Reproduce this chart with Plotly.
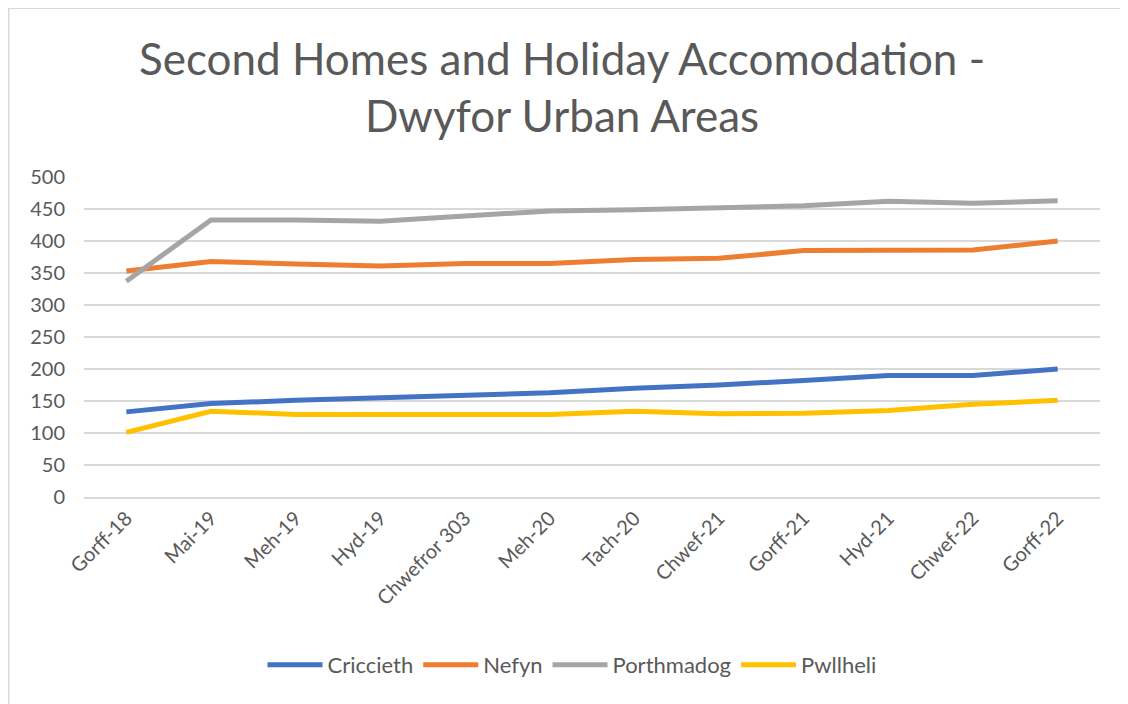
import plotly.graph_objects as go

categories = ["Gorff-18", "Mai-19", "Meh-19", "Hyd-19", "Chwefror 303", "Meh-20",
              "Tach-20", "Chwef-21", "Gorff-21", "Hyd-21", "Chwef-22", "Gorff-22"]
criccieth = [133, 146, 151, 155, 158, 163, 170, 175, 182, 190, 190, 200]
nefyn = [353, 368, 364, 361, 365, 365, 371, 373, 385, 386, 386, 400]
porthmadog = [337, 433, 433, 431, 439, 447, 449, 452, 455, 462, 459, 463]
pwllheli = [101, 134, 129, 129, 129, 129, 134, 130, 131, 135, 145, 151]
y_ticks = [0, 50, 100, 150, 200, 250, 300, 350, 400, 450, 500]

series = [
    ("Criccieth", criccieth, "#4472C4"),
    ("Nefyn", nefyn, "#ED7D31"),
    ("Porthmadog", porthmadog, "#A5A5A5"),
    ("Pwllheli", pwllheli, "#FFC000"),
]

FONT = "Lato, Liberation Sans, sans-serif"
TXT = "#595959"

fig = go.Figure()
for name, vals, col in series:
    fig.add_trace(go.Scatter(x=list(range(len(categories))), y=vals, name=name,
                             mode="lines", line=dict(color=col, width=5)))

# page has an 8px body margin; figure coordinates below are relative to it
W, H = 1128, 704
L, T = 76, 169
PR, PB = 1092, 489
pw, ph = PR - L, PB - T

fig.update_layout(
    width=W, height=H,
    margin=dict(l=L, r=W - PR, t=T, b=H - PB),
    paper_bgcolor="white", plot_bgcolor="white",
    font=dict(family=FONT, color=TXT, size=20),
    title=dict(text="Second Homes and Holiday Accomodation -<br>Dwyfor Urban Areas",
               x=(562 - 8) / W, xanchor="center", y=1 - 67 / H, yanchor="middle",
               font=dict(size=44, color=TXT, family=FONT)),
    showlegend=True,
    legend=dict(orientation="h", x=(572 - 8 - L) / pw, xanchor="center",
                y=-(657 - PB) / ph, yanchor="middle",
                font=dict(size=22, color=TXT), itemwidth=55,
                bgcolor="rgba(0,0,0,0)"),
    xaxis=dict(tickmode="array", tickvals=list(range(len(categories))), ticktext=categories,
               range=[-0.5, len(categories) - 0.5], tickangle=-45, showgrid=False,
               showline=True, linecolor="#D9D9D9", linewidth=1.5, ticks="",
               tickfont=dict(size=20, color=TXT), zeroline=False, fixedrange=True),
    yaxis=dict(range=[0, 500], tickmode="array", tickvals=y_ticks, showgrid=True,
               gridcolor="#D9D9D9", gridwidth=1.5, zeroline=False, showline=False,
               ticks="", ticklabelstandoff=18, tickfont=dict(size=20, color=TXT), fixedrange=True),
)

# outer chart border
fig.add_shape(type="rect", xref="paper", yref="paper",
              x0=(0.75 - L) / pw, x1=(1119 - L) / pw,
              y0=-(H + 10 - PB) / ph, y1=1 + (T - 0.25) / ph,
              line=dict(color="#D9D9D9", width=1.5), layer="below")

fig.write_html("out.html")
